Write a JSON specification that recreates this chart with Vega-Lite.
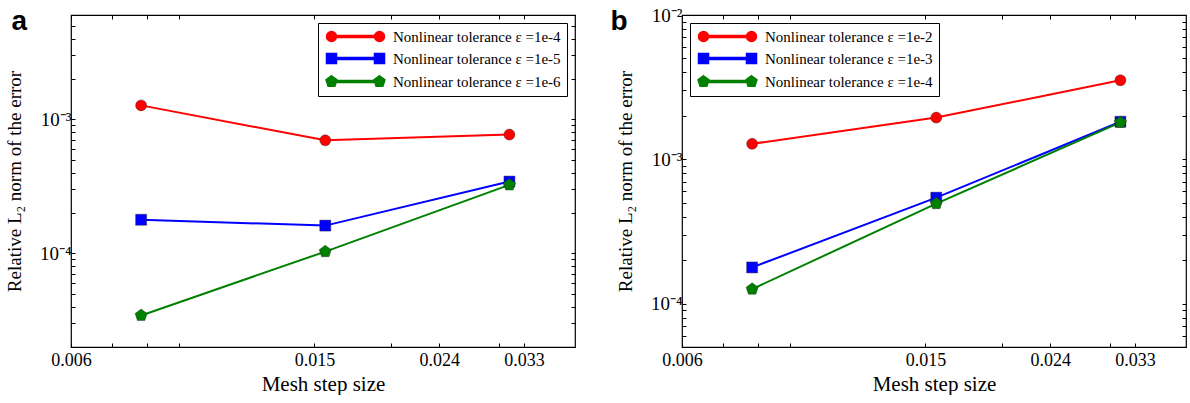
{
  "$schema": "https://vega.github.io/schema/vega-lite/v6.json",
  "padding": {"left": 4, "top": 5, "right": 0, "bottom": 0},
  "spacing": 32,
  "datasets": {
    "a": [
      {"h": 0.0078125, "err": 0.00127, "series": "Nonlinear tolerance ε =1e-4"},
      {"h": 0.015625, "err": 0.000697, "series": "Nonlinear tolerance ε =1e-4"},
      {"h": 0.03125, "err": 0.000769, "series": "Nonlinear tolerance ε =1e-4"},
      {"h": 0.0078125, "err": 0.000178, "series": "Nonlinear tolerance ε =1e-5"},
      {"h": 0.015625, "err": 0.000161, "series": "Nonlinear tolerance ε =1e-5"},
      {"h": 0.03125, "err": 0.000343, "series": "Nonlinear tolerance ε =1e-5"},
      {"h": 0.0078125, "err": 0.0000344, "series": "Nonlinear tolerance ε =1e-6"},
      {"h": 0.015625, "err": 0.000103, "series": "Nonlinear tolerance ε =1e-6"},
      {"h": 0.03125, "err": 0.000324, "series": "Nonlinear tolerance ε =1e-6"}
    ],
    "b": [
      {"h": 0.0078125, "err": 0.00128, "series": "Nonlinear tolerance ε =1e-2"},
      {"h": 0.015625, "err": 0.001945, "series": "Nonlinear tolerance ε =1e-2"},
      {"h": 0.03125, "err": 0.00353, "series": "Nonlinear tolerance ε =1e-2"},
      {"h": 0.0078125, "err": 0.000178, "series": "Nonlinear tolerance ε =1e-3"},
      {"h": 0.015625, "err": 0.000542, "series": "Nonlinear tolerance ε =1e-3"},
      {"h": 0.03125, "err": 0.00182, "series": "Nonlinear tolerance ε =1e-3"},
      {"h": 0.0078125, "err": 0.000126, "series": "Nonlinear tolerance ε =1e-4"},
      {"h": 0.015625, "err": 0.000493, "series": "Nonlinear tolerance ε =1e-4"},
      {"h": 0.03125, "err": 0.0018, "series": "Nonlinear tolerance ε =1e-4"}
    ]
  },
  "resolve": {"scale": {"color": "independent", "shape": "independent", "x": "independent", "y": "independent"}, "legend": {"color": "independent", "shape": "independent"}},
  "hconcat": [
    {
      "width": 504,
      "height": 332,
      "data": {"name": "a"},
      "title": {"text": "a", "anchor": "start", "frame": "bounds", "font": "Liberation Sans", "fontWeight": "bold", "fontSize": 28, "baseline": "alphabetic", "color": "black", "dx": 6, "dy": 52, "offset": 0},
      "resolve": {"axis": {"x": "independent", "y": "independent"}},
      "layer": [
        {
          "transform": [{"filter": {"field": "series", "equal": "none"}}],
          "mark": {"type": "point", "filled": true, "size": 100, "opacity": 1},
          "encoding": {
            "x": {"field": "h", "type": "quantitative", "axis": null},
            "y": {"field": "err", "type": "quantitative", "axis": null},
            "color": {"field": "series", "type": "nominal",
              "legend": {"title": null, "orient": "top-right", "offset": 8, "padding": 6, "rowPadding": 5, "strokeColor": "black", "fillColor": "white", "cornerRadius": 0, "symbolSize": 100, "symbolOffset": 24, "labelOffset": 30, "labelFont": "Liberation Serif", "labelFontSize": 15, "labelColor": "black", "labelLimit": 400}},
            "shape": {"field": "series", "type": "nominal",
              "scale": {"domain": ["Nonlinear tolerance ε =1e-4", "Nonlinear tolerance ε =1e-5", "Nonlinear tolerance ε =1e-6"], "range": [
                "M-4.8,-0.2H4.8V0.2H-4.8Z M-5.8,0A1,1,0,1,1,-3.8,0A1,1,0,1,1,-5.8,0Z M3.8,0A1,1,0,1,1,5.8,0A1,1,0,1,1,3.8,0Z",
                "M-4.8,-0.2H4.8V0.2H-4.8Z M-5.8,-1H-3.8V1H-5.8Z M3.8,-1H5.8V1H3.8Z",
                "M-4.8,-0.2H4.8V0.2H-4.8Z M-4.8,-1.15L-3.706,-0.355L-4.124,0.93L-5.476,0.93L-5.894,-0.355Z M4.8,-1.15L5.894,-0.355L5.476,0.93L4.124,0.93L3.706,-0.355Z"]},
              "legend": {"title": null, "orient": "top-right", "offset": 8, "padding": 6, "rowPadding": 5, "strokeColor": "black", "fillColor": "white", "cornerRadius": 0, "symbolSize": 100, "symbolOffset": 24, "labelOffset": 30, "labelFont": "Liberation Serif", "labelFontSize": 15, "labelColor": "black", "labelLimit": 400}}
          }
        },
        {
          "mark": {"type": "line", "strokeWidth": 2},
          "encoding": {
            "x": {"field": "h", "type": "quantitative", "scale": {"type": "log", "domain": [0.006, 0.04], "nice": false},
              "axis": {"orient": "bottom", "values": [0.006, 0.007, 0.008, 0.009, 0.015, 0.02, 0.024, 0.03, 0.033], "labelExpr": "indexof([0.006,0.015,0.024,0.033], datum.value) >= 0 ? format(datum.value, '.3f') : ''", "tickSize": -4, "tickColor": "black", "domain": false, "grid": false, "labelFont": "Liberation Serif", "labelFontSize": 18, "labelColor": "black", "labelPadding": 8, "labelFlush": false, "labelOverlap": false, "title": "Mesh step size", "titleFont": "Liberation Serif", "titleFontSize": 21, "titleFontWeight": "normal", "titleColor": "black", "titlePadding": 4}},
            "y": {"field": "err", "type": "quantitative", "scale": {"type": "log", "domain": [0.00002, 0.006], "nice": false},
              "axis": {"orient": "left", "values": [0.00002, 0.00003, 0.00004, 0.00005, 0.00006, 0.00007, 0.00008, 0.00009, 0.0001, 0.0002, 0.0003, 0.0004, 0.0005, 0.0006, 0.0007, 0.0008, 0.0009, 0.001, 0.002, 0.003, 0.004, 0.005, 0.006], "labelExpr": "datum.value == 0.001 ? '10⁻³' : datum.value == 0.0001 ? '10⁻⁴' : datum.value == 0.01 ? '10⁻²' : ''", "tickSize": -4, "tickColor": "black", "domain": false, "grid": false, "labelFont": "Liberation Serif", "labelFontSize": 19, "labelColor": "black", "labelPadding": 4, "labelOverlap": false, "labelFlush": false, "title": "Relative L₂ norm of the error", "titleFont": "Liberation Serif", "titleFontSize": 19, "titleFontWeight": "normal", "titleColor": "black", "titlePadding": 15}},
            "color": {"field": "series", "type": "nominal", "scale": {"domain": ["Nonlinear tolerance ε =1e-4", "Nonlinear tolerance ε =1e-5", "Nonlinear tolerance ε =1e-6"], "range": ["#ff0000", "#0000ff", "#008000"]}}
          }
        },
        {
          "transform": [{"filter": {"field": "series", "equal": "Nonlinear tolerance ε =1e-4"}}],
          "mark": {"type": "point", "shape": "circle", "filled": true, "size": 121, "opacity": 1, "stroke": "#222", "strokeWidth": 0.4},
          "encoding": {
            "x": {"field": "h", "type": "quantitative",
              "axis": {"orient": "top", "values": [0.006, 0.007, 0.008, 0.009, 0.015, 0.02, 0.024, 0.03, 0.033], "labels": false, "tickSize": -4, "tickColor": "black", "domain": false, "grid": false, "title": null}},
            "y": {"field": "err", "type": "quantitative",
              "axis": {"orient": "right", "values": [0.00002, 0.00003, 0.00004, 0.00005, 0.00006, 0.00007, 0.00008, 0.00009, 0.0001, 0.0002, 0.0003, 0.0004, 0.0005, 0.0006, 0.0007, 0.0008, 0.0009, 0.001, 0.002, 0.003, 0.004, 0.005, 0.006], "labels": false, "tickSize": -4, "tickColor": "black", "domain": false, "grid": false, "title": null}},
            "color": {"field": "series", "type": "nominal"}
          }
        },
        {
          "transform": [{"filter": {"field": "series", "equal": "Nonlinear tolerance ε =1e-5"}}],
          "mark": {"type": "point", "shape": "square", "filled": true, "size": 121, "opacity": 1, "stroke": "#222", "strokeWidth": 0.4},
          "encoding": {
            "x": {"field": "h", "type": "quantitative", "axis": null},
            "y": {"field": "err", "type": "quantitative", "axis": null},
            "color": {"field": "series", "type": "nominal"}
          }
        },
        {
          "transform": [{"filter": {"field": "series", "equal": "Nonlinear tolerance ε =1e-6"}}],
          "mark": {"type": "point", "shape": "M0,-1.15L1.094,-0.355L0.676,0.93L-0.676,0.93L-1.094,-0.355Z", "filled": true, "size": 121, "opacity": 1, "stroke": "#222", "strokeWidth": 0.4},
          "encoding": {
            "x": {"field": "h", "type": "quantitative", "axis": null},
            "y": {"field": "err", "type": "quantitative", "axis": null},
            "color": {"field": "series", "type": "nominal"}
          }
        }
      ]
    },
    {
      "width": 504,
      "height": 332,
      "data": {"name": "b"},
      "title": {"text": "b", "anchor": "start", "frame": "bounds", "font": "Liberation Sans", "fontWeight": "bold", "fontSize": 28, "baseline": "alphabetic", "color": "black", "dx": -6, "dy": 52, "offset": 0},
      "resolve": {"axis": {"x": "independent", "y": "independent"}},
      "layer": [
        {
          "transform": [{"filter": {"field": "series", "equal": "none"}}],
          "mark": {"type": "point", "filled": true, "size": 100, "opacity": 1},
          "encoding": {
            "x": {"field": "h", "type": "quantitative", "axis": null},
            "y": {"field": "err", "type": "quantitative", "axis": null},
            "color": {"field": "series", "type": "nominal",
              "legend": {"title": null, "orient": "top-left", "offset": 8, "padding": 6, "rowPadding": 5, "strokeColor": "black", "fillColor": "white", "cornerRadius": 0, "symbolSize": 100, "symbolOffset": 24, "labelOffset": 30, "labelFont": "Liberation Serif", "labelFontSize": 15, "labelColor": "black", "labelLimit": 400}},
            "shape": {"field": "series", "type": "nominal",
              "scale": {"domain": ["Nonlinear tolerance ε =1e-2", "Nonlinear tolerance ε =1e-3", "Nonlinear tolerance ε =1e-4"], "range": [
                "M-4.8,-0.2H4.8V0.2H-4.8Z M-5.8,0A1,1,0,1,1,-3.8,0A1,1,0,1,1,-5.8,0Z M3.8,0A1,1,0,1,1,5.8,0A1,1,0,1,1,3.8,0Z",
                "M-4.8,-0.2H4.8V0.2H-4.8Z M-5.8,-1H-3.8V1H-5.8Z M3.8,-1H5.8V1H3.8Z",
                "M-4.8,-0.2H4.8V0.2H-4.8Z M-4.8,-1.15L-3.706,-0.355L-4.124,0.93L-5.476,0.93L-5.894,-0.355Z M4.8,-1.15L5.894,-0.355L5.476,0.93L4.124,0.93L3.706,-0.355Z"]},
              "legend": {"title": null, "orient": "top-left", "offset": 8, "padding": 6, "rowPadding": 5, "strokeColor": "black", "fillColor": "white", "cornerRadius": 0, "symbolSize": 100, "symbolOffset": 24, "labelOffset": 30, "labelFont": "Liberation Serif", "labelFontSize": 15, "labelColor": "black", "labelLimit": 400}}
          }
        },
        {
          "mark": {"type": "line", "strokeWidth": 2},
          "encoding": {
            "x": {"field": "h", "type": "quantitative", "scale": {"type": "log", "domain": [0.006, 0.04], "nice": false},
              "axis": {"orient": "bottom", "values": [0.006, 0.007, 0.008, 0.009, 0.015, 0.02, 0.024, 0.03, 0.033], "labelExpr": "indexof([0.006,0.015,0.024,0.033], datum.value) >= 0 ? format(datum.value, '.3f') : ''", "tickSize": -4, "tickColor": "black", "domain": false, "grid": false, "labelFont": "Liberation Serif", "labelFontSize": 18, "labelColor": "black", "labelPadding": 8, "labelFlush": false, "labelOverlap": false, "title": "Mesh step size", "titleFont": "Liberation Serif", "titleFontSize": 21, "titleFontWeight": "normal", "titleColor": "black", "titlePadding": 4}},
            "y": {"field": "err", "type": "quantitative", "scale": {"type": "log", "domain": [0.00005, 0.01], "nice": false},
              "axis": {"orient": "left", "values": [0.00005, 0.00006, 0.00007, 0.00008, 0.00009, 0.0001, 0.0002, 0.0003, 0.0004, 0.0005, 0.0006, 0.0007, 0.0008, 0.0009, 0.001, 0.002, 0.003, 0.004, 0.005, 0.006, 0.007, 0.008, 0.009, 0.01], "labelExpr": "datum.value == 0.001 ? '10⁻³' : datum.value == 0.0001 ? '10⁻⁴' : datum.value == 0.01 ? '10⁻²' : ''", "tickSize": -4, "tickColor": "black", "domain": false, "grid": false, "labelFont": "Liberation Serif", "labelFontSize": 19, "labelColor": "black", "labelPadding": 4, "labelOverlap": false, "labelFlush": false, "title": "Relative L₂ norm of the error", "titleFont": "Liberation Serif", "titleFontSize": 19, "titleFontWeight": "normal", "titleColor": "black", "titlePadding": 15}},
            "color": {"field": "series", "type": "nominal", "scale": {"domain": ["Nonlinear tolerance ε =1e-2", "Nonlinear tolerance ε =1e-3", "Nonlinear tolerance ε =1e-4"], "range": ["#ff0000", "#0000ff", "#008000"]}}
          }
        },
        {
          "transform": [{"filter": {"field": "series", "equal": "Nonlinear tolerance ε =1e-2"}}],
          "mark": {"type": "point", "shape": "circle", "filled": true, "size": 121, "opacity": 1, "stroke": "#222", "strokeWidth": 0.4},
          "encoding": {
            "x": {"field": "h", "type": "quantitative",
              "axis": {"orient": "top", "values": [0.006, 0.007, 0.008, 0.009, 0.015, 0.02, 0.024, 0.03, 0.033], "labels": false, "tickSize": -4, "tickColor": "black", "domain": false, "grid": false, "title": null}},
            "y": {"field": "err", "type": "quantitative",
              "axis": {"orient": "right", "values": [0.00005, 0.00006, 0.00007, 0.00008, 0.00009, 0.0001, 0.0002, 0.0003, 0.0004, 0.0005, 0.0006, 0.0007, 0.0008, 0.0009, 0.001, 0.002, 0.003, 0.004, 0.005, 0.006, 0.007, 0.008, 0.009, 0.01], "labels": false, "tickSize": -4, "tickColor": "black", "domain": false, "grid": false, "title": null}},
            "color": {"field": "series", "type": "nominal"}
          }
        },
        {
          "transform": [{"filter": {"field": "series", "equal": "Nonlinear tolerance ε =1e-3"}}],
          "mark": {"type": "point", "shape": "square", "filled": true, "size": 121, "opacity": 1, "stroke": "#222", "strokeWidth": 0.4},
          "encoding": {
            "x": {"field": "h", "type": "quantitative", "axis": null},
            "y": {"field": "err", "type": "quantitative", "axis": null},
            "color": {"field": "series", "type": "nominal"}
          }
        },
        {
          "transform": [{"filter": {"field": "series", "equal": "Nonlinear tolerance ε =1e-4"}}],
          "mark": {"type": "point", "shape": "M0,-1.15L1.094,-0.355L0.676,0.93L-0.676,0.93L-1.094,-0.355Z", "filled": true, "size": 121, "opacity": 1, "stroke": "#222", "strokeWidth": 0.4},
          "encoding": {
            "x": {"field": "h", "type": "quantitative", "axis": null},
            "y": {"field": "err", "type": "quantitative", "axis": null},
            "color": {"field": "series", "type": "nominal"}
          }
        }
      ]
    }
  ],
  "config": {
    "view": {"stroke": "black", "strokeWidth": 1.2},
    "font": "Liberation Serif"
  }
}
